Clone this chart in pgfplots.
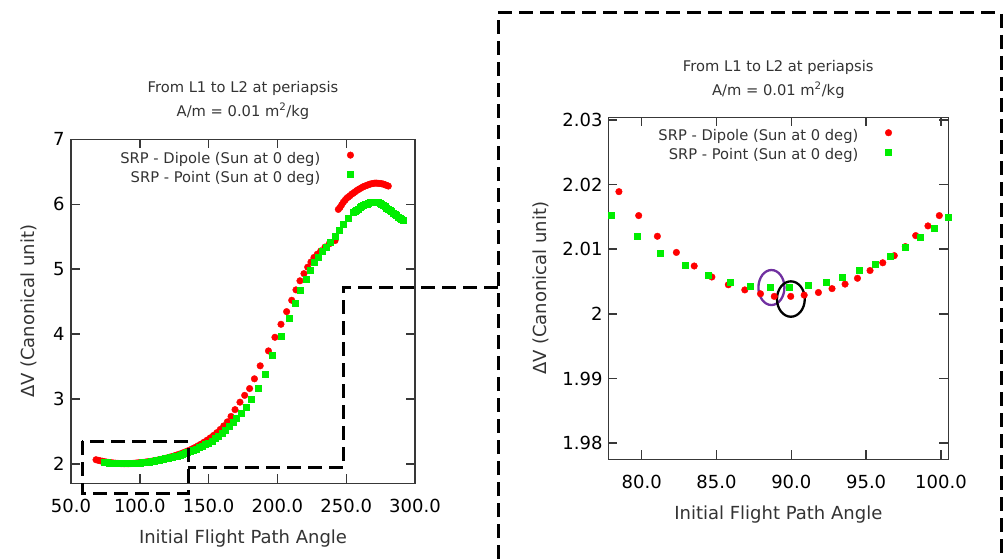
\documentclass[border=0pt]{standalone}
\usepackage{fontspec}
\setmainfont{DejaVu Sans}
\usepackage{pgfplots}
\pgfplotsset{compat=1.18}
\usepackage{pgfplotstable}

\definecolor{dipole}{RGB}{255,0,0}
\definecolor{pointsrc}{RGB}{0,238,0}
\definecolor{framegray}{RGB}{56,56,56}
\definecolor{textgray}{RGB}{51,51,51}
\definecolor{ringpurple}{RGB}{112,48,160}

% Delta-V for the L1 -> L2 transfer, dipole SRP model
\pgfplotstableread{
x y
68.2 2.063
69.7 2.0548
71.2 2.0472
72.7 2.0402
74.2 2.0338
75.7 2.0280
77.1 2.0232
78.48 2.0189
79.80 2.0152
81.05 2.0120
82.32 2.0095
83.51 2.0074
84.69 2.0057
85.79 2.0045
86.89 2.0037
87.94 2.0031
88.86 2.0027
89.96 2.0027
90.86 2.0029
91.81 2.0033
92.72 2.0039
93.59 2.0046
94.42 2.0055
95.26 2.0067
96.11 2.0079
96.88 2.0090
97.62 2.0104
98.31 2.0121
99.13 2.0136
99.89 2.0152
100.65 2.0169
101.45 2.0189
102.30 2.0211
103.15 2.0233
104.05 2.0256
105.00 2.0280
106.00 2.0314
107.00 2.0348
108.10 2.0385
109.20 2.0423
110.40 2.0467
111.60 2.0517
112.90 2.0572
114.20 2.0626
115.60 2.0691
117.00 2.0764
118.50 2.0842
120.00 2.0920
121.60 2.1016
123.20 2.1112
124.90 2.1214
126.60 2.1335
128.40 2.1465
130.20 2.1597
132.10 2.1756
134.00 2.1916
136.00 2.2100
138.00 2.2300
140.10 2.2512
142.20 2.2764
144.40 2.3028
146.60 2.3324
148.90 2.3646
151.20 2.3992
153.60 2.4376
156.00 2.4800
158.50 2.5300
161.00 2.5840
163.60 2.6464
166.30 2.7300
169.20 2.8350
172.80 2.9500
176.20 3.0550
179.80 3.1600
183.30 3.3100
187.50 3.5100
193.50 3.7400
198.20 3.9500
202.60 4.1500
206.70 4.3450
210.40 4.5200
213.50 4.6800
216.40 4.8200
219.30 4.9300
222.00 5.0300
224.40 5.1100
226.60 5.1800
229.00 5.2300
231.50 5.2800
234.60 5.3400
237.70 5.3900
241.90 5.4400
244.30 5.9200
245.50 5.9500
246.70 5.9900
247.90 6.0300
249.10 6.0600
250.30 6.0900
251.50 6.1100
252.70 6.1300
254.00 6.1550
255.20 6.1700
256.40 6.1900
257.60 6.2100
258.80 6.2250
260.00 6.2400
261.20 6.2550
262.40 6.2700
263.70 6.2800
264.90 6.2900
266.10 6.3000
267.30 6.3100
268.50 6.3150
269.70 6.3200
270.90 6.3250
272.20 6.3250
273.40 6.3200
274.60 6.3200
275.80 6.3150
277.00 6.3100
278.20 6.3000
279.40 6.2900
280.60 6.2800
}\dipoletab

% Delta-V for the same transfer, point-mass SRP model
\pgfplotstableread{
x y
74.2 2.0240
76.1 2.0193
77.97 2.0152
79.69 2.0120
81.27 2.0094
82.90 2.0075
84.44 2.0059
85.89 2.0049
87.22 2.0043
88.58 2.0041
89.86 2.0041
91.13 2.0045
92.31 2.0049
93.38 2.0057
94.54 2.0067
95.61 2.0077
96.59 2.0089
97.61 2.0103
98.64 2.0119
99.55 2.0133
100.51 2.0149
101.5 2.0176
102.5 2.0203
103.5 2.0230
104.6 2.0259
105.7 2.0292
106.8 2.0328
108.0 2.0366
109.2 2.0404
110.4 2.0445
111.7 2.0495
113.0 2.0544
114.4 2.0597
115.8 2.0657
117.3 2.0726
118.8 2.0795
120.4 2.0870
122.0 2.0950
123.7 2.1035
125.4 2.1124
127.2 2.1232
129.0 2.1340
130.9 2.1463
132.8 2.1596
134.8 2.1736
136.8 2.1912
138.9 2.2101
141.0 2.2300
143.2 2.2520
145.4 2.2744
147.7 2.2997
150.0 2.3250
152.4 2.3562
154.8 2.3874
157.3 2.4268
159.8 2.4668
162.4 2.5228
165.0 2.5800
167.7 2.6450
170.4 2.7100
173.5 2.7800
177.0 2.8700
180.8 2.9900
185.7 3.1600
191.0 3.3800
196.3 3.6700
202.4 3.9700
208.4 4.2500
213.2 4.4800
216.9 4.6700
220.8 4.8400
223.7 4.9800
226.8 5.1000
229.7 5.1900
232.6 5.2700
235.3 5.3300
238.2 5.4100
241.9 5.5000
245.0 5.6000
247.9 5.6900
251.5 5.7800
255.2 5.8700
256.4 5.8900
257.6 5.9100
258.8 5.9300
260.0 5.9500
261.2 5.9650
262.4 5.9800
263.7 5.9950
264.9 6.0050
266.1 6.0150
267.3 6.0250
268.5 6.0300
269.7 6.0350
270.9 6.0350
272.1 6.0350
273.3 6.0300
274.5 6.0200
275.7 6.0050
277.0 5.9850
278.2 5.9650
279.4 5.9450
280.6 5.9250
281.8 5.9050
283.0 5.8850
284.2 5.8650
285.4 5.8450
286.6 5.8250
287.9 5.8050
289.1 5.7850
290.3 5.7650
291.5 5.7500
}\pointtab

\pgfplotsset{
  dotlegend/.style={legend image code/.code={\path (0pt,0pt) (12pt,0pt);\draw[##1] plot coordinates {(6pt,3.5pt)};}},
  gnubox/.style={
    scale only axis,
    clip=false,
    axis line style={draw=framegray, line width=1.3pt},
    xtick pos=both, ytick pos=both,
    tick align=inside,
    major tick length=9pt,
    tick style={framegray, line width=1.4pt},
    ticklabel style={font=\fontsize{18}{21}\selectfont, text=black},
    label style={font=\fontsize{18}{21}\selectfont, text=textgray},
    legend style={draw=none, fill=none, inner sep=0pt, row sep=0pt,
      font=\fontsize{14.7}{17}\selectfont,
      nodes={inner sep=0pt, text height=14pt, text depth=5pt, text=textgray},
      /tikz/every odd column/.append style={column sep=24pt}},
    legend plot pos=right,
    legend cell align=right,
    xticklabel style={anchor=base, yshift=-29pt},
    xlabel={Initial Flight Path Angle},
    ylabel={ΔV (Canonical unit)},
  },
  dipmark/.style={only marks, mark=*, color=dipole, mark size=3.3pt, dotlegend},
  ptmark/.style={only marks, mark=square*, color=pointsrc, mark size=3pt, dotlegend},
}

\newcommand\titlefont{\fontsize{14.7}{17}\selectfont\color{textgray}}

\begin{document}
\begin{tikzpicture}
\path[use as bounding box] (0pt,0pt) rectangle (1003pt,-559pt);

% full range of flight path angles
\begin{axis}[gnubox,
  at={(71pt,-483.3pt)}, anchor=south west,
  width=344pt, height=344pt,
  xmin=50, xmax=300, ymin=1.7, ymax=7,
  xtick={50,100,150,200,250,300},
  xticklabels={50.0,100.0,150.0,200.0,250.0,300.0},
  ytick={2,3,4,5,6,7},
  yticklabels={2,3,4,5,6,7},
  yticklabel style={anchor=east, xshift=-3pt},
  xlabel style={at={(axis description cs:0.5,-0.1744)}, anchor=base},
  ylabel style={at={(axis description cs:-0.105,0.5)}, anchor=base},
  legend style={at={(0.831,0.972)}, anchor=north east},
]
\addplot[dipmark] table {\dipoletab};
\addlegendentry{SRP - Dipole (Sun at 0 deg)}
\addplot[ptmark] table {\pointtab};
\addlegendentry{SRP - Point (Sun at 0 deg)}
\node[anchor=base, yshift=47pt, font=\titlefont] at (rel axis cs:0.5,1) {From L1 to L2 at periapsis};
\node[anchor=base, yshift=23.3pt, font=\titlefont] at (rel axis cs:0.5,1) {A/m = 0.01 m\textsuperscript{2}/kg};
\end{axis}

% close-up around the minimum
\begin{axis}[gnubox,
  at={(608.3pt,-459.3pt)}, anchor=south west,
  width=340pt, height=342pt,
  xmin=77.77, xmax=100.49, ymin=1.9775, ymax=2.0304,
  restrict x to domain=77.5:100.6,
  xtick={80,85,90,95,100},
  xticklabels={80.0,85.0,90.0,95.0,100.0},
  ytick={1.98,1.99,2,2.01,2.02,2.03},
  yticklabels={1.98,1.99,2,2.01,2.02,2.03},
  yticklabel style={anchor=east, xshift=-2.3pt},
  xlabel style={at={(axis description cs:0.5,-0.1746)}, anchor=base},
  ylabel style={at={(axis description cs:-0.183,0.5)}, anchor=base},
  legend style={at={(0.843,0.973)}, anchor=north east},
]
\addplot[dipmark] table {\dipoletab};
\addlegendentry{SRP - Dipole (Sun at 0 deg)}
\addplot[ptmark] table {\pointtab};
\addlegendentry{SRP - Point (Sun at 0 deg)}
\draw[ringpurple, line width=2.3pt] (axis cs:88.67,2.00407) ellipse [x radius=13pt, y radius=17.5pt];
\draw[black, line width=2.3pt] (axis cs:89.97,2.00229) ellipse [x radius=13.9pt, y radius=17.7pt];
\node[anchor=base, yshift=45.6pt, font=\titlefont] at (rel axis cs:0.5,1) {From L1 to L2 at periapsis};
\node[anchor=base, yshift=22.3pt, font=\titlefont] at (rel axis cs:0.5,1) {A/m = 0.01 m\textsuperscript{2}/kg};
\end{axis}

% zoom frames linking the two panels
\begin{scope}[x=1pt, y=-1pt, line width=3pt, dash pattern=on 14pt off 7pt]
\draw (498,559) -- (498,13) -- (1001,13) -- (1001,559);
\draw (498,287) -- (343,287) -- (343,467.5) -- (188,467.5);
\draw (82,441) rectangle (188,493);
\end{scope}
\end{tikzpicture}
\end{document}
